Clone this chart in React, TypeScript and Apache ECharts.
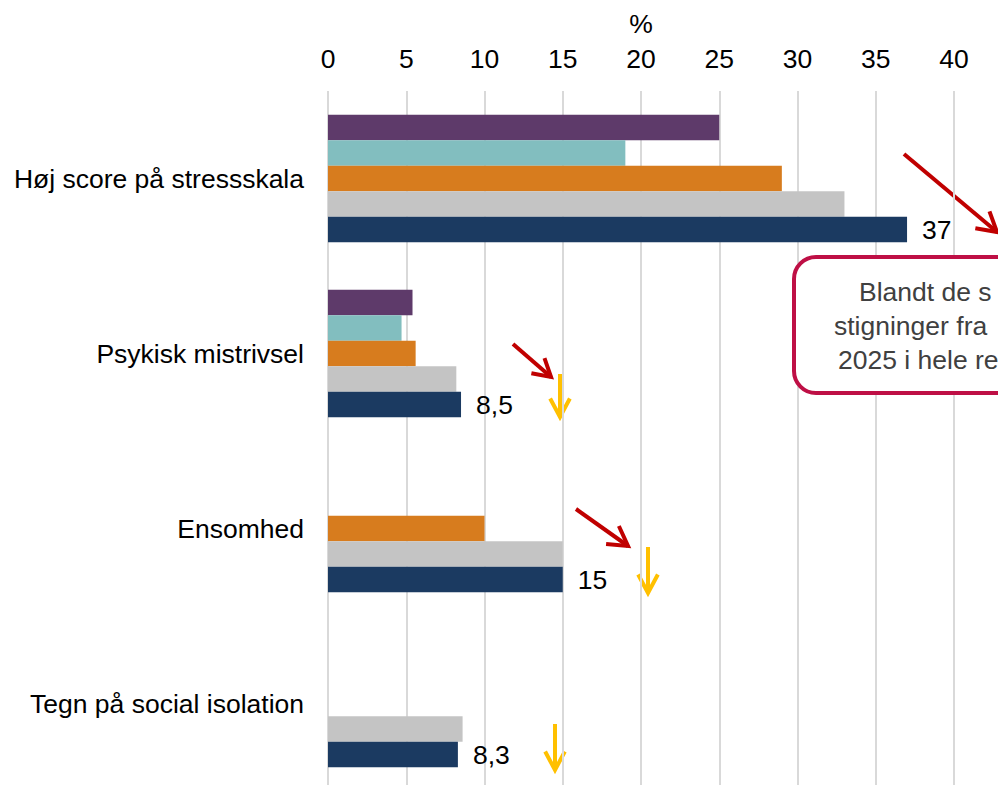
import React, { useEffect, useRef } from "react";
import * as echarts from "echarts";

const categories = [
  "Høj score på stressskala",
  "Psykisk mistrivsel",
  "Ensomhed",
  "Tegn på social isolation",
];
const seriesNames = ["2013", "2017", "2021", "2023", "2025"];
const valuesPurple = [25, 5.4, null, null];
const valuesTeal = [19, 4.7, null, null];
const valuesOrange = [29, 5.6, 10, null];
const valuesGray = [33, 8.2, 15, 8.6];
const valuesNavy = [37, 8.5, 15, 8.3];
const axisMin = 0;
const axisMax = 40;
const axisInterval = 5;
const axisName = "%";
// Visible part of the annotation box text (the box runs past the picture's edge)
const boxLines = ["Blandt de s", "stigninger fra", "2025 i hele re"];

const colors = ["#5E3A6A", "#82BEBF", "#D77C1E", "#C4C4C4", "#1B3A61"];
const FONT = "'Liberation Sans', Arial, sans-serif";
const RED = "#C00000";
const YELLOW = "#FFC000";
const FS = 26.5;

function arrow(
  x1: number,
  y1: number,
  x2: number,
  y2: number,
  color: string,
  len: number,
  deg: number
) {
  const a = Math.atan2(y2 - y1, x2 - x1);
  const t = (deg * Math.PI) / 180;
  const p1 = [x2 - len * Math.cos(a - t), y2 - len * Math.sin(a - t)];
  const p2 = [x2 - len * Math.cos(a + t), y2 - len * Math.sin(a + t)];
  return {
    type: "group",
    z: 100,
    children: [
      {
        type: "line",
        shape: { x1, y1, x2, y2 },
        style: { stroke: color, lineWidth: 4 },
      },
      {
        type: "polyline",
        shape: { points: [p1, [x2, y2], p2] },
        style: { stroke: color, lineWidth: 4, fill: null, lineJoin: "miter" },
      },
    ],
  };
}

function boxText(x: number, y: number, text: string) {
  return {
    type: "text",
    z: 95,
    x,
    y,
    style: {
      text,
      fontSize: 26.5,
      fontFamily: FONT,
      fill: "#404040",
      textAlign: "left",
      textVerticalAlign: "middle",
    },
  };
}

export default function App() {
  const ref = useRef<HTMLDivElement>(null);
  useEffect(() => {
    if (!ref.current) return;
    const chart = echarts.init(ref.current, undefined, { renderer: "svg" });
    const allValues = [valuesPurple, valuesTeal, valuesOrange, valuesGray, valuesNavy];
    const series = allValues.map((vals, i) => ({
      type: "bar",
      name: seriesNames[i],
      data: vals,
      barWidth: 25.5,
      barGap: "0%",
      itemStyle: { color: colors[i] },
      label:
        i === 4
          ? {
              show: true,
              position: "right",
              distance: 15,
              fontSize: FS,
              fontFamily: FONT,
              color: "#000",
              formatter: (p: any) => String(p.value).replace(".", ","),
            }
          : { show: false },
    }));
    chart.setOption({
      animation: false,
      textStyle: { fontFamily: FONT },
      grid: { left: 328, right: 44, top: 91, height: 700, containLabel: false },
      xAxis: {
        type: "value",
        position: "top",
        min: axisMin,
        max: axisMax,
        interval: axisInterval,
        name: axisName,
        nameLocation: "middle",
        nameGap: 54,
        nameTextStyle: { fontSize: FS, color: "#000", fontFamily: FONT },
        axisLabel: { fontSize: FS, color: "#000", margin: 19, fontFamily: FONT },
        axisLine: { show: false },
        axisTick: { show: false },
        splitLine: { lineStyle: { color: "#D9D9D9", width: 2 } },
      },
      yAxis: {
        type: "category",
        data: categories,
        inverse: true,
        axisLine: { show: false },
        axisTick: { show: false },
        axisLabel: { fontSize: FS, color: "#000", margin: 24, fontFamily: FONT },
      },
      series,
      graphic: [
        {
          type: "rect",
          z: 90,
          shape: { x: 794, y: 257, width: 420, height: 136, r: 22 },
          style: { fill: "#FFFFFF", stroke: "#BE0F45", lineWidth: 4 },
        },
        boxText(859, 292, boxLines[0]),
        boxText(834, 326, boxLines[1]),
        boxText(838, 360, boxLines[2]),
        arrow(904, 154, 997, 232, RED, 22, 30),
        arrow(513, 344, 551, 377, RED, 20, 30),
        arrow(576, 509, 628, 546, RED, 22, 30),
        arrow(560, 374, 560, 417, YELLOW, 21, 28),
        arrow(648, 547, 648, 593, YELLOW, 21, 28),
        arrow(555, 724, 555, 770, YELLOW, 21, 28),
      ],
    });
    return () => chart.dispose();
  }, []);
  return (
    <div
      ref={ref}
      style={{ position: "fixed", left: 0, top: 0, width: 998, height: 800, background: "#fff" }}
    />
  );
}
